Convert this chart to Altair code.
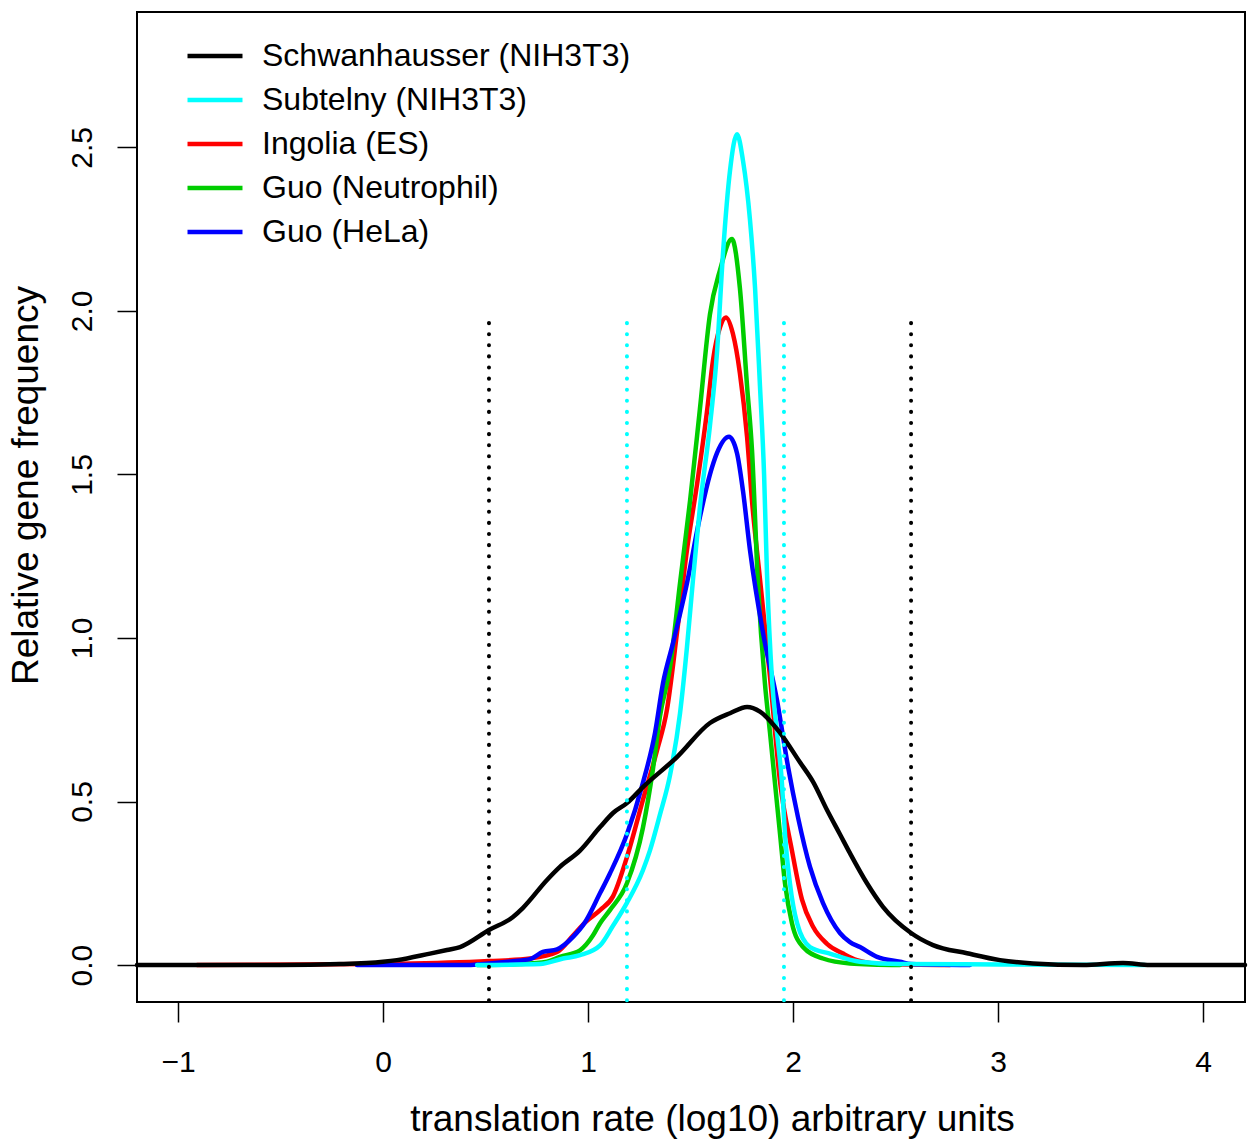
import altair as alt
import pandas as pd

FONT = "Liberation Sans"

series_names = ["Schwanhausser (NIH3T3)", "Subtelny (NIH3T3)", "Ingolia (ES)",
                "Guo (Neutrophil)", "Guo (HeLa)"]
series_colors = ["#000000", "#00FFFF", "#FF0000", "#00CD00", "#0000FF"]

# Schwanhausser (NIH3T3) - black
black_x = [-1.2, -0.502, -0.210, 0.0, 0.068, 0.229, 0.312, 0.376, 0.517, 0.634,
           0.683, 0.8, 0.863, 0.961, 1.059, 1.122, 1.190, 1.268, 1.434, 1.595,
           1.693, 1.776, 1.839, 1.937, 2.034, 2.098, 2.166, 2.229, 2.278, 2.361,
           2.439, 2.576, 2.683, 2.849, 3.010, 3.171, 3.415, 3.610, 3.741, 4.205]
black_y = [0.0, 0.0, 0.003, 0.01, 0.015, 0.035, 0.046, 0.055, 0.107, 0.147,
           0.175, 0.26, 0.30, 0.35, 0.422, 0.465, 0.495, 0.544, 0.636, 0.74,
           0.77, 0.789, 0.775, 0.71, 0.62, 0.56, 0.474, 0.40, 0.342, 0.25,
           0.178, 0.098, 0.061, 0.036, 0.015, 0.005, 0.0, 0.006, 0.0, 0.0]

# Subtelny (NIH3T3) - cyan
cyan_x = [0.459, 0.766, 0.878, 0.961, 1.059, 1.122, 1.190, 1.268, 1.302, 1.351,
          1.4, 1.449, 1.483, 1.512, 1.546, 1.595, 1.629, 1.659, 1.693, 1.727,
          1.756, 1.790, 1.815, 1.839, 1.859, 1.873, 1.898, 1.922, 1.946, 1.961,
          1.985, 2.020, 2.083, 2.180, 2.327, 2.522, 3.010, 3.717]
cyan_y = [0.0, 0.003, 0.02, 0.03, 0.06, 0.12, 0.19, 0.29, 0.35, 0.46,
          0.58, 0.77, 0.973, 1.177, 1.40, 1.65, 1.87, 2.18, 2.43, 2.54,
          2.46, 2.28, 2.07, 1.77, 1.5, 1.2, 0.87, 0.71, 0.557, 0.40,
          0.25, 0.128, 0.055, 0.035, 0.01, 0.003, 0.002, 0.0]

# Ingolia (ES) - red
red_x = [-0.907, -0.405, 0.083, 0.517, 0.717, 0.849, 0.927, 0.985, 1.059, 1.122,
         1.19, 1.268, 1.337, 1.385, 1.434, 1.483, 1.532, 1.580, 1.610, 1.644,
         1.673, 1.707, 1.741, 1.776, 1.80, 1.839, 1.888, 1.937, 1.995, 2.044,
         2.098, 2.166, 2.244, 2.312, 2.439, 2.766]
red_y = [0.0, 0.002, 0.004, 0.012, 0.02, 0.04, 0.09, 0.13, 0.168, 0.21,
         0.33, 0.505, 0.657, 0.78, 1.015, 1.27, 1.47, 1.69, 1.85, 1.95,
         1.98, 1.93, 1.81, 1.615, 1.42, 1.18, 0.88, 0.56, 0.35, 0.2,
         0.117, 0.065, 0.035, 0.015, 0.003, 0.0]

# Guo (Neutrophil) - green
green_x = [0.459, 0.668, 0.8, 0.863, 0.961, 1.024, 1.059, 1.107, 1.190, 1.268,
           1.317, 1.351, 1.4, 1.449, 1.498, 1.546, 1.595, 1.644, 1.702, 1.741,
           1.776, 1.8, 1.829, 1.863, 1.888, 1.912, 1.937, 1.961, 1.995, 2.049,
           2.146, 2.278, 2.522]
green_y = [0.0, 0.003, 0.01, 0.025, 0.045, 0.09, 0.128, 0.168, 0.25, 0.42,
           0.6, 0.76, 0.91, 1.168, 1.42, 1.7, 1.99, 2.125, 2.22, 2.07,
           1.77, 1.575, 1.168, 0.862, 0.71, 0.557, 0.40, 0.25, 0.128, 0.055,
           0.02, 0.005, 0.0]

# Guo (HeLa) - blue
blue_x = [-0.127, 0.390, 0.634, 0.717, 0.780, 0.849, 0.927, 0.985, 1.059, 1.107,
          1.190, 1.268, 1.327, 1.366, 1.415, 1.483, 1.546, 1.595, 1.629, 1.688,
          1.727, 1.756, 1.790, 1.854, 1.922, 1.976, 2.024, 2.083, 2.146, 2.229,
          2.278, 2.327, 2.410, 2.522, 2.576, 2.863]
blue_y = [0.0, 0.0, 0.012, 0.018, 0.04, 0.048, 0.086, 0.13, 0.22, 0.28,
          0.40, 0.557, 0.71, 0.862, 0.985, 1.168, 1.37, 1.5, 1.565, 1.615,
          1.565, 1.45, 1.27, 1.015, 0.81, 0.606, 0.453, 0.30, 0.19, 0.098,
          0.07, 0.055, 0.025, 0.01, 0.003, 0.0]

# vertical dotted reference lines
black_vlines = [0.517, 2.576]
cyan_vlines = [1.19, 1.956]
vline_top = 1.963

x_ticks = [-1, 0, 1, 2, 3, 4]
y_ticks = [0.0, 0.5, 1.0, 1.5, 2.0, 2.5]
x_domain = [-1.2, 4.205]
y_domain = [-0.113, 2.914]

# rows are added in drawing order (black drawn last, on top)
draw_order = [
    ("Ingolia (ES)", red_x, red_y),
    ("Guo (Neutrophil)", green_x, green_y),
    ("Guo (HeLa)", blue_x, blue_y),
    ("Subtelny (NIH3T3)", cyan_x, cyan_y),
    ("Schwanhausser (NIH3T3)", black_x, black_y),
]
rows = []
for name, xs, ys in draw_order:
    for i, (xv, yv) in enumerate(zip(xs, ys)):
        rows.append({"series": name, "x": xv, "y": yv, "i": i})
df = pd.DataFrame(rows)

x_scale = alt.Scale(domain=x_domain, nice=False, zero=False)
y_scale = alt.Scale(domain=y_domain, nice=False, zero=False)

x_axis = alt.Axis(
    values=x_ticks, format="d", domain=False, grid=False,
    tickSize=20, tickWidth=1.5, tickColor="black",
    labelFont=FONT, labelFontSize=30, labelColor="black", labelPadding=49,
    labelBaseline="alphabetic", labelFlush=False, labelOverlap=False,
    title="translation rate (log10) arbitrary units",
    titleFont=FONT, titleFontSize=37, titleFontWeight="normal", titleColor="black",
    titleBaseline="alphabetic", titleAlign="center", titleX=575, titleY=128,
)
y_axis = alt.Axis(
    values=y_ticks, format=".1f", domain=False, grid=False,
    tickSize=20, tickWidth=1.5, tickColor="black",
    labelFont=FONT, labelFontSize=30, labelColor="black", labelPadding=26,
    labelAngle=270, labelAlign="center", labelBaseline="alphabetic",
    labelFlush=False, labelOverlap=False,
    title="Relative gene frequency",
    titleFont=FONT, titleFontSize=37, titleFontWeight="normal", titleColor="black",
    titleAngle=270, titleAlign="center", titleBaseline="alphabetic",
    titleX=-100, titleY=473,
)

legend = alt.Legend(
    orient="none", legendX=62, legendY=28, title=None, padding=0,
    symbolType="M-3,0H3", symbolSize=336, symbolStrokeWidth=4.5,
    labelFont=FONT, labelFontSize=32, labelColor="black", labelOffset=31,
    rowPadding=12, labelLimit=0,
)

lines = alt.Chart(df).mark_line(
    strokeWidth=4.5, interpolate="monotone", strokeCap="round", strokeJoin="round"
).encode(
    x=alt.X("x:Q", scale=x_scale, axis=x_axis),
    y=alt.Y("y:Q", scale=y_scale, axis=y_axis),
    color=alt.Color("series:N", sort=series_names,
                    scale=alt.Scale(domain=series_names, range=series_colors),
                    legend=legend),
    order=alt.Order("i:Q"),
)

vb = pd.DataFrame({"x": black_vlines, "top": [vline_top] * len(black_vlines),
                   "bottom": [y_domain[0]] * len(black_vlines)})
vc = pd.DataFrame({"x": cyan_vlines, "top": [vline_top] * len(cyan_vlines),
                   "bottom": [y_domain[0]] * len(cyan_vlines)})

rule_black = alt.Chart(vb).mark_rule(
    color="#000000", strokeWidth=4, strokeDash=[0.1, 11], strokeCap="round"
).encode(x=alt.X("x:Q", scale=x_scale), y=alt.Y("top:Q", scale=y_scale), y2="bottom:Q")

rule_cyan = alt.Chart(vc).mark_rule(
    color="#00FFFF", strokeWidth=4, strokeDash=[0.1, 11], strokeCap="round"
).encode(x=alt.X("x:Q", scale=x_scale), y=alt.Y("top:Q", scale=y_scale), y2="bottom:Q")

chart = alt.layer(lines, rule_black, rule_cyan).properties(
    width=1108, height=990,
    autosize=alt.AutoSizeParams(type="none"),
    padding={"left": 137, "top": 12, "right": 8, "bottom": 144},
    title=alt.TitleParams("d", anchor="start", frame="group", fontSize=40,
                          fontWeight="bold", font=FONT, color="black",
                          dx=-127, offset=5, baseline="alphabetic"),
).configure(
    background="white"
).configure_view(
    stroke="black", strokeWidth=2
)

chart.save("out.html", embed_options={"renderer": "svg", "actions": False})
